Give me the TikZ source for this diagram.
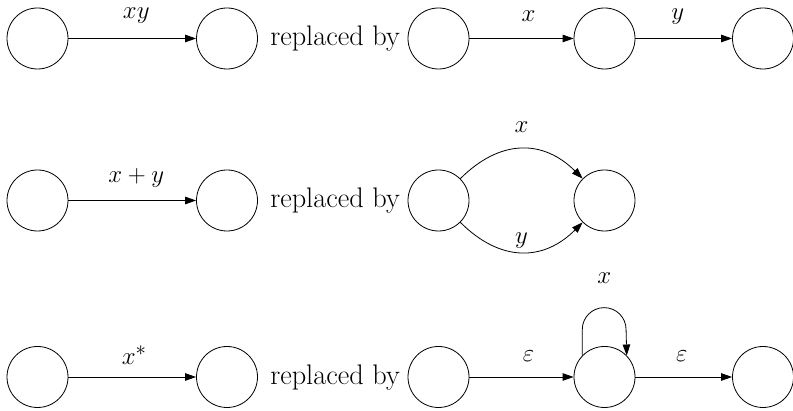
\documentclass[tikz,border=0pt]{standalone}
\usetikzlibrary{arrows.meta}
\begin{document}
\begin{tikzpicture}[x=1pt,y=1pt,
  every node/.style={font=\fontsize{28.3}{34}\selectfont},
  state/.style={circle,draw,line width=0.8pt,minimum size=61pt,inner sep=0pt},
  arr/.style={line width=0.8pt,-{Triangle[length=11pt,width=7.5pt]}},
  lbl/.style={anchor=base,inner sep=0pt},
  repl/.style={anchor=base,inner sep=0pt}]
\useasboundingbox (0,0) rectangle (793,411);

% concatenation
\node[state] (a1) at (37.5,372.5) {};
\node[state] (b1) at (227,372.5) {};
\node[repl] (r1) at (335,365) {replaced by};
\node[state] (c1) at (438.5,372.5) {};
\node[state] (d1) at (604.5,372.5) {};
\node[state] (e1) at (763,372.5) {};
\draw[arr] (a1) -- node[lbl,xshift=4pt,yshift=19.5pt] {$xy$} (b1);
\draw[arr] (c1) -- node[lbl,xshift=7pt,yshift=17pt] {$x$} (d1);
\draw[arr] (d1) -- node[lbl,xshift=-6pt,yshift=19pt] {$y$} (e1);

% union
\node[state] (a2) at (37.5,210.5) {};
\node[state] (b2) at (227,210.5) {};
\node[repl] (r2) at (335,203) {replaced by};
\node[state] (c2) at (438.5,210.5) {};
\node[state] (d2) at (604.5,210.5) {};
\draw[arr] (a2) -- node[lbl,xshift=4pt,yshift=17.5pt] {$x+y$} (b2);
\draw[arr] (c2.45) .. controls +(45:56pt) and +(135:56pt) .. (d2.135)
  node[lbl,pos=0.5,yshift=16pt] {$x$};
\draw[arr] (c2.-45) .. controls +(-45:56pt) and +(-135:56pt) .. (d2.-135)
  node[lbl,pos=0.5,yshift=9pt] {$y$};

% star
\node[state] (a3) at (37.5,34) {};
\node[state] (b3) at (227,34) {};
\node[repl] (r3) at (335,26.5) {replaced by};
\node[state] (c3) at (438.5,34) {};
\node[state] (d3) at (604.5,34) {};
\node[state] (e3) at (763,34) {};
\draw[arr] (a3) -- node[lbl,xshift=2pt,yshift=12pt] {$x^*$} (b3);
\draw[arr] (c3) -- node[lbl,xshift=7pt,yshift=15pt] {$\varepsilon$} (d3);
\draw[arr] (d3) -- node[lbl,xshift=-2pt,yshift=15pt] {$\varepsilon$} (e3);
\draw[arr] (d3.136) -- ++(0,26) arc[start angle=180,end angle=0,radius=21.9pt]
  node[lbl,pos=0.5,yshift=24pt] {$x$} -- (d3.44);
\end{tikzpicture}
\end{document}
